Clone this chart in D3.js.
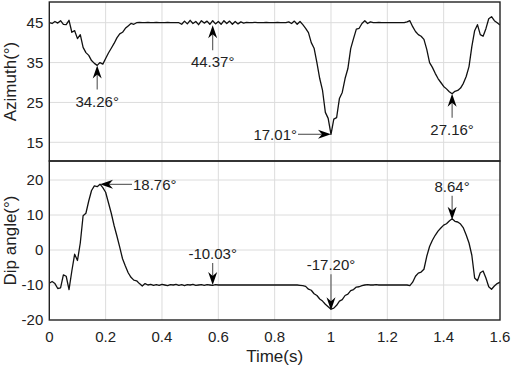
<!DOCTYPE html>
<html>
<head>
<meta charset="utf-8">
<script src="https://cdn.jsdelivr.net/npm/d3@7"></script>
<style>
  body { margin: 0; background: #fff; }
  svg { display: block; font-family: "Liberation Sans", Arial, sans-serif; }
  .grid line { stroke: #dcdcdc; stroke-width: 1; }
  .tick-label { font-size: 15px; fill: #222; }
  .axis-label { font-size: 17px; fill: #222; }
  .note { font-size: 15px; fill: #222; }
</style>
</head>
<body>
<svg width="512" height="368"></svg>
<script>
// time axis, 0.01 s steps
var time = d3.range(161).map(function(i) { return +(i * 0.01).toFixed(2); });

// azimuth (deg)
var azimuth = [
  45.0, 44.8, 45.3, 44.9, 45.5, 44.6, 44.5, 45.6, 42.6, 43.0,
  41.0, 42.0, 38.8, 37.5, 36.8, 35.5, 34.8, 34.3, 35.0, 34.6,
  36.0, 37.4, 38.6, 39.8, 41.2, 42.2, 42.6, 43.6, 44.2, 44.8,
  44.6, 45.0, 45.1, 45.0, 45.0, 45.1, 45.0, 45.0, 45.1, 45.0,
  45.0, 45.0, 45.1, 45.0, 45.0, 45.0, 45.0, 44.6, 45.4, 44.7,
  45.6, 44.8, 45.3, 44.5, 45.5, 44.9, 45.4, 44.6, 45.5, 44.7,
  45.3, 44.6, 45.5, 44.8, 45.4, 44.6, 45.3, 44.7, 45.2, 44.9,
  45.1, 45.0, 45.0, 45.1, 45.0, 45.0, 45.0, 45.1, 45.0, 45.0,
  45.0, 45.1, 45.0, 45.0, 45.0, 45.2, 44.8, 45.4, 44.6, 45.3,
  44.5, 43.6, 42.5, 40.0, 38.6, 35.0, 31.0, 28.0, 22.5, 21.0,
  17.0, 20.8, 21.2, 26.0, 27.5, 31.0, 33.5, 38.5, 41.0, 43.4,
  43.6, 44.8, 45.5, 44.8, 45.2, 45.0, 45.0, 45.1, 45.0, 45.0,
  45.0, 45.0, 45.0, 45.0, 45.0, 45.0, 45.0, 45.2, 45.5, 44.0,
  42.8, 42.0, 41.6, 40.8, 38.3, 35.0, 33.8, 32.3, 31.0, 30.0,
  29.0, 28.4, 27.7, 27.2, 27.8, 28.0, 28.6, 29.8, 31.5, 34.0,
  39.0, 43.0, 44.5, 42.0, 41.6, 43.5, 46.0, 46.5, 45.5, 45.0,
  44.4
];

// dip angle (deg)
var dip = [
  -9.5, -9.0, -9.6, -11.0, -10.8, -7.1, -7.5, -11.3, -6.0, -1.2,
  -3.0, 2.0, 9.8, 10.5, 14.0, 17.0, 18.3, 18.1, 18.8, 17.8,
  16.5, 13.5, 10.5, 7.0, 4.0, 0.8, -2.5, -4.6, -6.5, -7.8,
  -8.6, -8.8, -9.6, -10.3, -9.6, -10.0, -9.8, -10.1, -9.9, -10.1,
  -9.8, -10.0, -10.2, -9.9, -10.0, -9.8, -10.1, -9.9, -10.2, -9.9,
  -10.0, -9.8, -10.1, -10.0, -9.9, -10.1, -9.9, -10.0, -10.1, -9.9,
  -10.0, -10.0, -10.0, -10.0, -10.0, -10.0, -10.0, -10.0, -10.0, -10.0,
  -10.0, -10.0, -10.0, -10.0, -10.0, -10.0, -10.0, -10.0, -10.0, -10.0,
  -10.0, -10.0, -10.0, -10.0, -10.0, -10.0, -10.0, -10.0, -10.0, -10.1,
  -10.2, -10.4, -11.2, -11.5, -12.5, -13.0, -14.0, -14.6, -15.5, -16.2,
  -16.9, -16.6, -15.8, -14.6, -14.2, -13.0, -12.6, -11.6, -11.3, -10.6,
  -10.5, -10.2, -10.0, -9.9, -10.0, -10.0, -9.9, -10.0, -10.0, -10.0,
  -10.0, -10.0, -10.0, -10.0, -10.0, -10.0, -10.0, -10.0, -10.2, -9.2,
  -7.5, -6.6, -6.3, -5.5, -1.8, 1.0, 2.8, 4.2, 5.4, 6.3,
  7.1, 7.5, 8.3, 8.9, 8.2, 8.0, 7.4, 6.3, 4.3, 2.0,
  -1.5, -8.0, -8.8, -6.5, -6.0, -8.0, -10.5, -11.2, -10.3, -9.6,
  -9.2
];

var xTicks = [0, 0.2, 0.4, 0.6, 0.8, 1, 1.2, 1.4, 1.6];
var azTicks = [15, 25, 35, 45];
var dipTicks = [-20, -10, 0, 10, 20];

// marked values: [time, value, label, direction, arrow length]
var azNotes = [
  [0.17, 34.26, "34.26°", "up", 24],
  [0.58, 44.37, "44.37°", "up", 25],
  [1.00, 17.01, "17.01°", "right", 33],
  [1.43, 27.16, "27.16°", "up", 24]
];
var dipNotes = [
  [0.18, 18.76, "18.76°", "left", 32],
  [0.58, -10.03, "-10.03°", "down", 22],
  [1.00, -17.20, "-17.20°", "down", 36],
  [1.43, 8.64, "8.64°", "down", 24]
];

var svg = d3.select("svg");
var left = 49.3, right = 500, top1 = 2, mid = 161, bot = 320;

var x = d3.scaleLinear().domain([0, 1.6]).range([left, right]);
var yA = d3.scaleLinear().domain([15, 45]).range([142.3, 22.7]);
var yD = d3.scaleLinear().domain([-20, 20]).range([bot, 180]);

function panel(y, ticks, gridTicks, values, notes, y0, y1, label) {
  var g = svg.append("g");
  var clipId = "clip" + Math.round(y0);
  g.append("clipPath").attr("id", clipId)
    .append("rect").attr("x", left).attr("y", y0).attr("width", right - left).attr("height", y1 - y0);

  var grid = g.append("g").attr("class", "grid");
  grid.selectAll(".vx").data(xTicks.slice(1, -1)).enter().append("line")
    .attr("x1", function(d) { return x(d); }).attr("x2", function(d) { return x(d); })
    .attr("y1", y0).attr("y2", y1);
  grid.selectAll(".hy").data(gridTicks).enter().append("line")
    .attr("x1", left).attr("x2", right)
    .attr("y1", function(d) { return y(d); }).attr("y2", function(d) { return y(d); });

  var line = d3.line().x(function(d, i) { return x(time[i]); }).y(function(d) { return y(d); });
  g.append("path").datum(values)
    .attr("clip-path", "url(#" + clipId + ")")
    .attr("fill", "none").attr("stroke", "#111").attr("stroke-width", 1.3)
    .attr("stroke-linejoin", "round")
    .attr("d", line);

  g.selectAll(".yl").data(ticks).enter().append("text")
    .attr("class", "tick-label")
    .attr("x", left - 6).attr("y", function(d) { return y(d); })
    .attr("dy", "0.35em").attr("text-anchor", "end")
    .text(function(d) { return d; });

  g.append("text").attr("class", "axis-label")
    .attr("transform", "translate(16," + ((y0 + y1) / 2) + ") rotate(-90)")
    .attr("text-anchor", "middle")
    .text(label);

  notes.forEach(function(n) {
    var tx = x(n[0]), ty = y(n[1]), len = n[4], dir = n[3];
    var ang = { up: -90, down: 90, left: 180, right: 0 }[dir];
    // arrow drawn pointing right, then rotated to the right direction
    var a = g.append("g").attr("transform", "translate(" + tx + "," + ty + ") rotate(" + ang + ")");
    a.append("line").attr("x1", -len).attr("x2", -8).attr("y1", 0).attr("y2", 0)
      .attr("stroke", "#555").attr("stroke-width", 1.1);
    a.append("path").attr("d", "M0,0 L-13,-4.5 L-9,0 L-13,4.5 Z").attr("fill", "#000");

    var t = g.append("text").attr("class", "note").text(n[2]);
    if (dir === "up") {
      t.attr("x", tx).attr("y", ty + len + 17).attr("text-anchor", "middle");
    } else if (dir === "down") {
      t.attr("x", tx).attr("y", ty - len - 4).attr("text-anchor", "middle");
    } else if (dir === "right") {
      t.attr("x", tx - len - 1).attr("y", ty).attr("dy", "0.35em").attr("text-anchor", "end");
    } else {
      t.attr("x", tx + len + 1).attr("y", ty).attr("dy", "0.35em").attr("text-anchor", "start");
    }
  });
}

panel(yA, azTicks, azTicks, azimuth, azNotes, top1, mid, "Azimuth(°)");
panel(yD, dipTicks, [-10, 0, 10, 20], dip, dipNotes, mid, bot, "Dip angle(°)");

// frames
svg.append("rect").attr("x", left).attr("y", top1).attr("width", right - left).attr("height", mid - top1)
  .attr("fill", "none").attr("stroke", "#222").attr("stroke-width", 1.4);
svg.append("rect").attr("x", left).attr("y", mid).attr("width", right - left).attr("height", bot - mid)
  .attr("fill", "none").attr("stroke", "#222").attr("stroke-width", 1.4);

// x tick labels
svg.append("g").selectAll("text").data(xTicks).enter().append("text")
  .attr("class", "tick-label")
  .attr("x", function(d) { return x(d); }).attr("y", bot + 22)
  .attr("text-anchor", "middle")
  .text(function(d) { return d; });

svg.append("text").attr("class", "axis-label")
  .attr("x", (left + right) / 2).attr("y", 362)
  .attr("text-anchor", "middle")
  .text("Time(s)");
</script>
</body>
</html>
